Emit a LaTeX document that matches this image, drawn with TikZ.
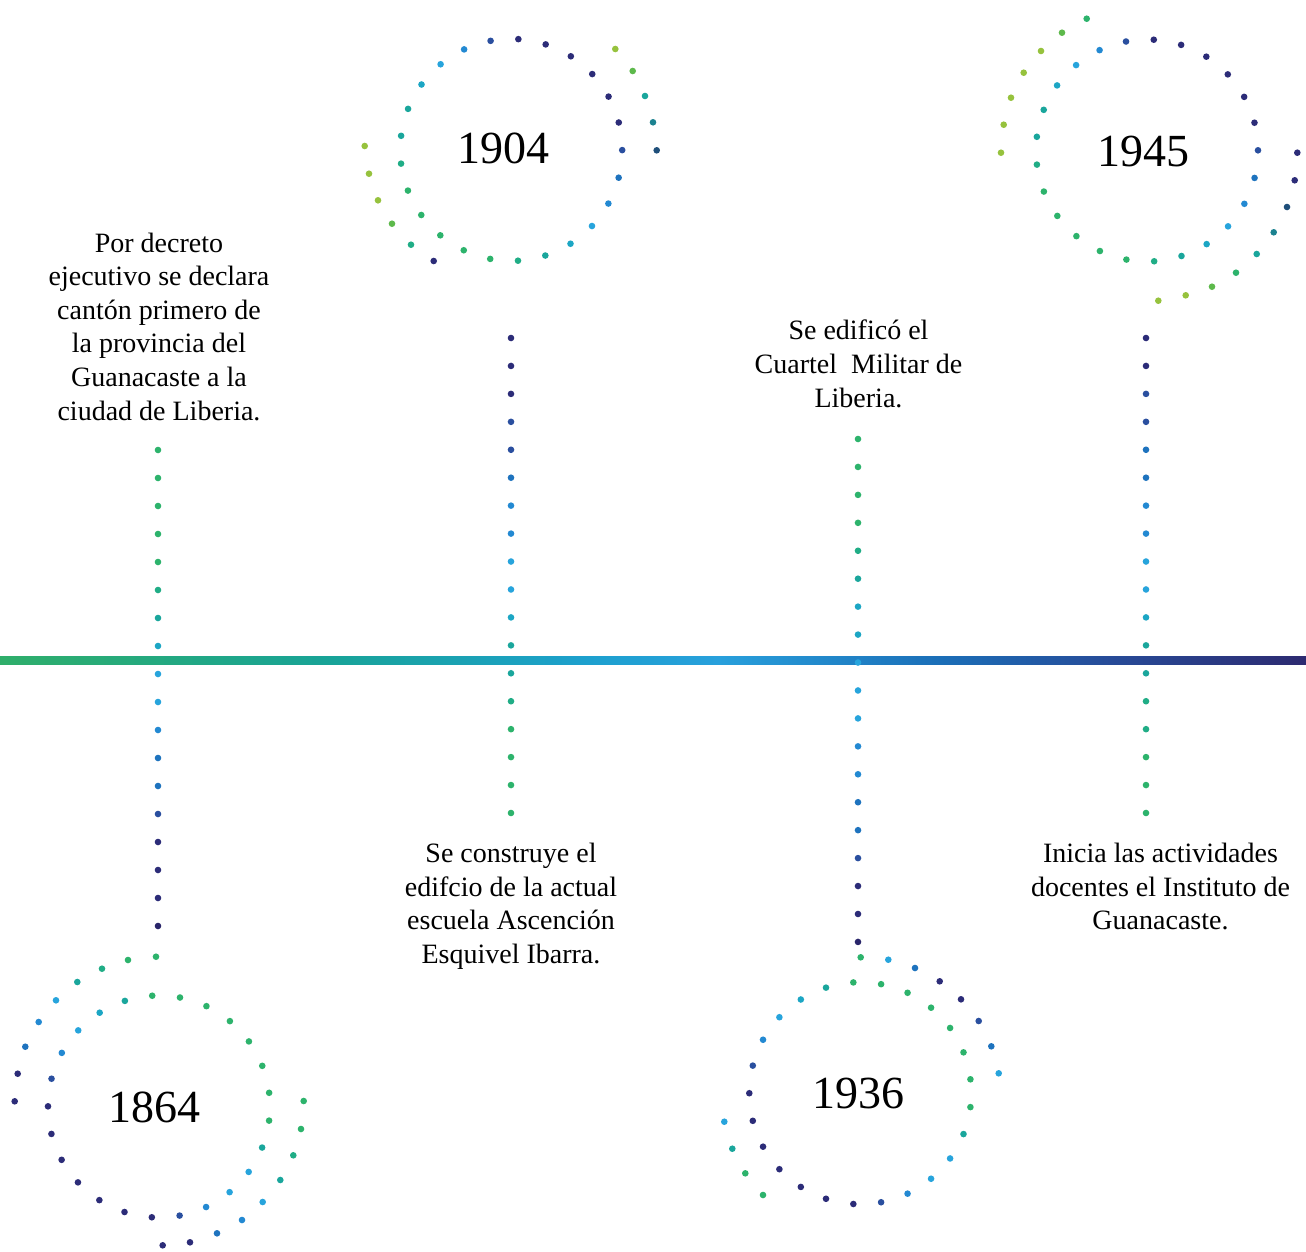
\documentclass[tikz,border=0pt]{standalone}
\usepackage{fontspec}
\setmainfont{Liberation Serif}
\definecolor{cYG}{HTML}{96C23D}
\definecolor{cLG}{HTML}{5DB94B}
\definecolor{cGR}{HTML}{2DB36C}
\definecolor{cTG}{HTML}{20AD86}
\definecolor{cTL}{HTML}{1AA69C}
\definecolor{cTC}{HTML}{1CA6C4}
\definecolor{cCY}{HTML}{27A4DC}
\definecolor{cCB}{HTML}{2389D2}
\definecolor{cBL}{HTML}{1E73BE}
\definecolor{cIB}{HTML}{2A4F9F}
\definecolor{cNV}{HTML}{2C2C78}
\definecolor{cDN}{HTML}{29256A}
\definecolor{cDT}{HTML}{1B8290}
\definecolor{cDK}{HTML}{1F4F7A}
\definecolor{lnA}{HTML}{2FAE6A}
\definecolor{lnB}{HTML}{18A397}
\definecolor{lnC}{HTML}{1DA0CE}
\definecolor{lnD}{HTML}{28A0DC}
\definecolor{lnE}{HTML}{1B6EB7}
\definecolor{lnF}{HTML}{274B98}
\definecolor{lnG}{HTML}{2D2A70}
\pgfdeclarehorizontalshading{tlgrad}{100bp}{color(0bp)=(lnA); color(25bp)=(lnA); color(37.5bp)=(lnB); color(47.5bp)=(lnC); color(52.5bp)=(lnD); color(61bp)=(lnE); color(67.5bp)=(lnF); color(75bp)=(lnG); color(100bp)=(lnG)}
\begin{document}
\begin{tikzpicture}[x=1pt,y=-1pt,
  evtext/.style={align=center,font=\fontsize{28}{33.6}\selectfont,inner sep=0pt,anchor=north},
  yeartext/.style={font=\fontsize{46}{50}\selectfont,inner sep=0pt},
  tdot/.style={fill=#1}]
\useasboundingbox (0,0) rectangle (1306,1251);
\fill[white] (0,0) rectangle (1306,1251);
% timeline
\shade[shading=tlgrad] (0,656) rectangle (1306,664);
% vertical dotted lines
\foreach \c [count=\k from 0] in {cGR,cGR,cGR,cGR,cGR,cTG,cTL,cTC,cCY,cCY,cCB,cBL,cBL,cIB,cNV,cNV,cNV,cDN}
  \fill[tdot=\c] (158,{450+28*\k}) circle (3.3);
\foreach \c [count=\k from 0] in {cNV,cNV,cNV,cIB,cIB,cBL,cCB,cCB,cCY,cCY,cTC,cTL,cTL,cTG,cGR,cGR,cGR,cGR}
  \fill[tdot=\c] (511,{338+27.94*\k}) circle (3.3);
\foreach \c [count=\k from 0] in {cGR,cGR,cGR,cGR,cTG,cTL,cTC,cTC,cCY,cCY,cCY,cCB,cCB,cBL,cBL,cIB,cNV,cNV,cDN}
  \fill[tdot=\c] (858,{439+27.94*\k}) circle (3.3);
\foreach \c [count=\k from 0] in {cNV,cNV,cIB,cIB,cBL,cBL,cCB,cCB,cCY,cCY,cTC,cTL,cTL,cTG,cTG,cGR,cGR,cGR}
  \fill[tdot=\c] (1146,{338+27.94*\k}) circle (3.3);
% inner rings
\foreach \c [count=\k from 0] in {cGR,cGR,cGR,cGR,cGR,cGR,cGR,cGR,cTL,cCY,cCY,cCB,cIB,cNV,cNV,cNV,cNV,cNV,cNV,cNV,cIB,cCB,cCY,cTC,cTL}
  \fill[tdot=\c] (159,1106.5) ++({-93.5+14.4*\k}:111) circle (3.3);
\foreach \c [count=\k from 0] in {cNV,cNV,cNV,cNV,cNV,cNV,cIB,cBL,cCB,cCY,cTC,cTL,cTG,cGR,cGR,cGR,cGR,cGR,cTG,cTL,cTL,cTC,cCY,cCB,cIB}
  \fill[tdot=\c] (511.2,149.9) ++({-86.3+14.4*\k}:111) circle (3.3);
\foreach \c [count=\k from 0] in {cGR,cGR,cGR,cGR,cGR,cGR,cGR,cGR,cTL,cCY,cCY,cCB,cIB,cNV,cNV,cNV,cNV,cNV,cNV,cNV,cIB,cCB,cCY,cTC,cTL}
  \fill[tdot=\c] (860.3,1093.2) ++({-93.6+14.4*\k}:111) circle (3.3);
\foreach \c [count=\k from 0] in {cNV,cNV,cNV,cNV,cNV,cNV,cIB,cBL,cCB,cCY,cTC,cTL,cTG,cGR,cGR,cGR,cGR,cGR,cTG,cTL,cTL,cTC,cCY,cCB,cIB}
  \fill[tdot=\c] (1147,150.5) ++({-86.5+14.4*\k}:111) circle (3.3);
% outer arcs
\foreach \c/\x/\y in {cGR/156/956.7, cGR/128/960, cTG/102/968.7, cTL/77.3/982, cCY/56/1000.3, cCB/38.7/1022, cBL/25.3/1046.7, cNV/17.7/1073.7, cNV/14.7/1101.3,
  cGR/303.7/1101, cGR/301/1129, cTG/293.3/1155.3, cTL/280.3/1180, cCY/262.7/1202, cCB/242/1220, cBL/217/1233.3, cNV/190/1242.3, cNV/162.7/1245.3}
  \fill[tdot=\c] (\x,\y) circle (3.3);
\foreach \c/\x/\y in {cYG/615.3/49, cLG/632.7/71, cTL/645/96, cDT/653/122.3, cDK/656.7/150.3,
  cYG/364.7/146, cYG/369/173.7, cYG/378/200.3, cLG/392/223.7, cTG/411/244.7, cNV/433.7/261}
  \fill[tdot=\c] (\x,\y) circle (3.3);
\foreach \c/\x/\y in {cGR/860.7/957.3, cCY/888.3/959.7, cBL/915/968, cNV/939.7/981.3, cNV/961/999.3, cIB/978.7/1021, cBL/991.3/1046.3, cCY/998.7/1073.3,
  cCY/724.3/1121.7, cTL/732.3/1148.7, cGR/745.3/1173.3, cGR/763/1195}
  \fill[tdot=\c] (\x,\y) circle (3.3);
\foreach \c/\x/\y in {cGR/1086.7/18.7, cLG/1062/32.7, cYG/1041/51, cYG/1023.7/72.7, cYG/1011/97.7, cYG/1003.7/124.7, cYG/1001/152.7,
  cNV/1297.3/152.7, cNV/1294.7/180.3, cDK/1287/207, cDT/1273.7/232.3, cTL/1256.7/254, cGR/1236/272.7, cLG/1212/286.7, cYG/1185.7/295.3, cYG/1158.3/300.7}
  \fill[tdot=\c] (\x,\y) circle (3.3);
% years
\node[yeartext] (y1864) at (154,1107.5) {1864};
\node[yeartext] (y1904) at (503,148.3) {1904};
\node[yeartext] (y1936) at (858,1093) {1936};
\node[yeartext] (y1945) at (1143,151.7) {1945};
% event texts
\node[evtext] (ev1864) at (159,232.5) {Por decreto\\ejecutivo se declara\\cantón primero de\\la provincia del\\Guanacaste a la\\ciudad de Liberia.};
\node[evtext] (ev1904) at (511,843) {Se construye el\\edifcio de la actual\\escuela Ascención\\Esquivel Ibarra.};
\node[evtext] (ev1936) at (858.5,320) {Se edificó el\\Cuartel\ \ Militar de\\Liberia.};
\node[evtext] (ev1945) at (1160.5,843) {Inicia las actividades\\docentes el Instituto de\\Guanacaste.};
\end{tikzpicture}
\end{document}
